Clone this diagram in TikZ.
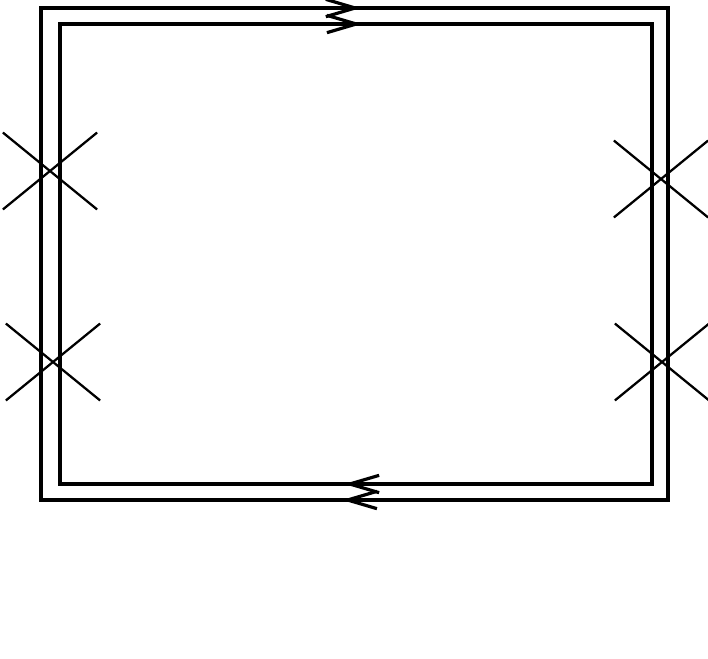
\documentclass[tikz,border=0pt]{standalone}
\usetikzlibrary{arrows.meta,decorations.markings,shapes.misc}
\tikzset{
  loopline/.style={draw,line width=2.4pt,line join=miter},
  flow/.style={loopline,postaction={decorate},
    decoration={markings,mark=at position #1 with {\arrow{Straight Barb[length=22pt,width=13pt,line width=2.4pt]}}}},
  flow/.default=0.5,
  vertex/.style={draw,cross out,line width=1.7pt,minimum width=69pt,minimum height=56pt,inner sep=0pt}
}
\begin{document}
\begin{tikzpicture}[x=0.75pt,y=-0.75pt]
\useasboundingbox (0,0) rectangle (708,658);
% outer loop
\coordinate (o1) at (41,8);
\coordinate (o2) at (668,8);
\coordinate (o3) at (668,500);
\coordinate (o4) at (41,500);
% inner loop
\coordinate (i1) at (60,24);
\coordinate (i2) at (652,24);
\coordinate (i3) at (652,484);
\coordinate (i4) at (60,484);
\draw[loopline] (o1) -- (o2) -- (o3) -- (o4) -- cycle;
\draw[loopline] (i1) -- (i2) -- (i3) -- (i4) -- cycle;
\path[flow=0.51] (o1) -- (o2);
\path[flow=0.51] (i1) -- (i2);
\path[flow=0.52] (o3) -- (o4);
\path[flow=0.52] (i3) -- (i4);
% vertices
\node[vertex] (v1) at (50,171) {};
\node[vertex] (v2) at (53,362) {};
\node[vertex] (v3) at (661,179) {};
\node[vertex] (v4) at (662,362) {};
\end{tikzpicture}
\end{document}
